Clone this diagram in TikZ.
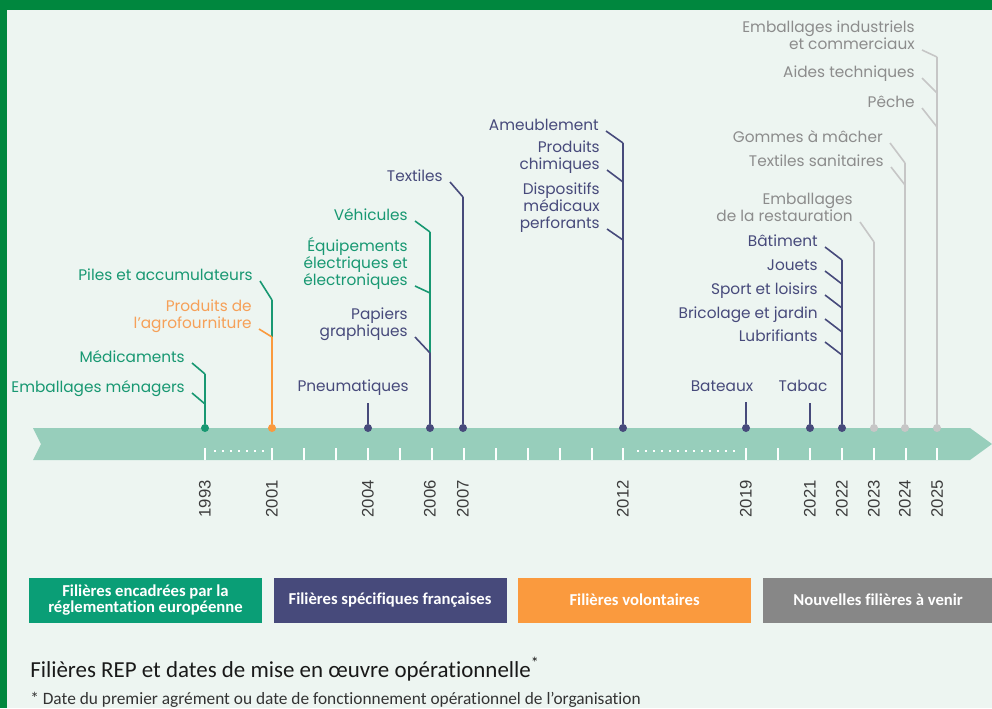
\documentclass[tikz,border=0pt]{standalone}
\usepackage{fontspec}
\setmainfont{Poppins}
\newfontfamily\legendfont[Ligatures=NoCommon]{Carlito}
\newfontfamily\yearfont{Liberation Sans}
\usetikzlibrary{positioning}

\definecolor{fond}{RGB}{237,245,241}
\definecolor{cadre}{RGB}{0,135,62}
\definecolor{bande}{RGB}{151,206,187}
\definecolor{europe}{RGB}{24,152,114}
\definecolor{europebox}{RGB}{10,158,118}
\definecolor{france}{RGB}{71,74,123}
\definecolor{volont}{RGB}{250,154,62}
\definecolor{volonttxt}{RGB}{246,160,88}
\definecolor{avenir}{RGB}{198,198,198}
\definecolor{avenirtxt}{RGB}{140,140,140}
\definecolor{avenirbox}{RGB}{135,135,135}
\definecolor{annee}{RGB}{60,60,60}

\tikzset{
  filiere/.style={font=\fontsize{11.5}{13}\selectfont, inner sep=0pt, text depth=0pt, align=right, anchor=south east},
  tige/.style={line width=1.5pt},
  branche/.style={line width=1.2pt},
  point/.style={circle, fill, inner sep=0pt, minimum size=6pt},
  annee/.style={font=\yearfont\fontsize{12.5}{12.5}\selectfont, text=annee, rotate=90, anchor=east, inner sep=0pt},
  legende/.style={font=\legendfont\bfseries\fontsize{12.5}{12}\selectfont, text=white, align=center,
    minimum width=174.75pt, minimum height=33.75pt, inner sep=0pt},
}

\begin{document}
\begin{tikzpicture}[x=0.75pt, y=-0.75pt]

  % fond et cadre
  \fill[fond] (0,0) rectangle (992,708);
  \fill[cadre] (0,0) rectangle (992,10);
  \fill[cadre] (0,0) rectangle (7,708);
  \useasboundingbox (0,0) rectangle (992,708);

  % bande chronologique
  \fill[bande] (33,428) -- (970,428) -- (992,444) -- (970,460) -- (33,460) -- (41,444) -- cycle;

  % graduations
  \draw[white, line width=1.2pt]
    (205,448) -- (205,460) (272,448) -- (272,460) (304,448) -- (304,460) (336,448) -- (336,460)
    (368,448) -- (368,460) (400,448) -- (400,460) (432,448) -- (432,460) (464,448) -- (464,460)
    (496,448) -- (496,460) (528,448) -- (528,460) (560,448) -- (560,460) (592,448) -- (592,460)
    (623,448) -- (623,460) (746,448) -- (746,460) (778,448) -- (778,460) (810,448) -- (810,460)
    (842,448) -- (842,460) (874,448) -- (874,460) (906,448) -- (906,460) (937,448) -- (937,460);
  \draw[white, line width=1.5pt, dash pattern=on 1.5pt off 4.5pt] (214,451) -- (265,451); % annees sautees
  \draw[white, line width=1.5pt, dash pattern=on 1.5pt off 4.5pt] (637,451) -- (737,451);

  % points des annees
  \node[point, europe] (d1993) at (205,428) {};
  \node[point, volont] (d2001) at (272,428) {};
  \node[point, france] (d2004) at (368,428) {};
  \node[point, france] (d2006) at (430,428) {};
  \node[point, france] (d2007) at (463,428) {};
  \node[point, france] (d2012) at (623,428) {};
  \node[point, france] (d2019) at (746,428) {};
  \node[point, france] (d2021) at (810,428) {};
  \node[point, france] (d2022) at (842,428) {};
  \node[point, avenir] (d2023) at (874,428) {};
  \node[point, avenir] (d2024) at (905,428) {};
  \node[point, avenir] (d2025) at (937,428) {};

  % annees
  \node[annee] (a1993) at (205,480) {1993};
  \node[annee] (a2001) at (272,480) {2001};
  \node[annee] (a2004) at (368,480) {2004};
  \node[annee] (a2006) at (430,480) {2006};
  \node[annee] (a2007) at (463,480) {2007};
  \node[annee] (a2012) at (623,480) {2012};
  \node[annee] (a2019) at (746,480) {2019};
  \node[annee] (a2021) at (810,480) {2021};
  \node[annee] (a2022) at (842,480) {2022};
  \node[annee] (a2023) at (874,480) {2023};
  \node[annee] (a2024) at (905,480) {2024};
  \node[annee] (a2025) at (937,480) {2025};

  % 1993
  \coordinate (j1993a) at (205,374);
  \coordinate (j1993b) at (205,404);
  \node[filiere, text=europe] (medic) at (185,363) {Médicaments};
  \node[filiere, text=europe] (embmen) at (185,393) {Emballages ménagers};
  \draw[tige, europe] (d1993) -- (j1993a);
  \draw[branche, europe] ([xshift=5.25pt]medic.south east) -- (j1993a);
  \draw[branche, europe] ([xshift=5.25pt]embmen.south east) -- (j1993b);

  % 2001
  \coordinate (j2001a) at (272,300);
  \coordinate (j2001b) at (272,337);
  \node[filiere, text=europe] (piles) at (253,281) {Piles et accumulateurs};
  \node[filiere, text=volonttxt] (agro) at (252,329) {Produits de\\l’agrofourniture};
  \draw[tige, europe] (j2001a) -- (j2001b);
  \draw[tige, volont] (j2001b) -- (d2001);
  \draw[branche, europe] ([xshift=5.25pt]piles.south east) -- (j2001a);
  \draw[branche, volont] ([xshift=5.25pt]agro.south east) -- (j2001b);

  % 2004
  \coordinate (t2004) at (368,403);
  \node[filiere, text=france] (pneu) at (409,392) {Pneumatiques};
  \draw[tige, france] (d2004) -- (t2004);

  % 2006
  \coordinate (j2006a) at (430,232);
  \coordinate (j2006b) at (430,293);
  \coordinate (j2006c) at (430,353);
  \node[filiere, text=europe] (vehic) at (408,221) {Véhicules};
  \node[filiere, text=europe] (equip) at (408,286) {Équipements\\électriques et\\électroniques};
  \node[filiere, text=france] (papier) at (408,337) {Papiers\\graphiques};
  \draw[tige, europe] (j2006a) -- (j2006c);
  \draw[tige, france] (j2006c) -- (d2006);
  \draw[branche, europe] ([xshift=5.25pt]vehic.south east) -- (j2006a);
  \draw[branche, europe] ([xshift=5.25pt]equip.south east) -- (j2006b);
  \draw[branche, france] ([xshift=5.25pt]papier.south east) -- (j2006c);

  % 2007
  \coordinate (j2007) at (463,197);
  \node[filiere, text=france] (textil) at (443,182) {Textiles};
  \draw[tige, france] (d2007) -- (j2007);
  \draw[branche, france] ([xshift=5.25pt]textil.south east) -- (j2007);

  % 2012
  \coordinate (j2012a) at (623,143);
  \coordinate (j2012b) at (623,182);
  \coordinate (j2012c) at (623,240);
  \node[filiere, text=france] (ameub) at (599,131) {Ameublement};
  \node[filiere, text=france] (chimi) at (600,170) {Produits\\chimiques};
  \node[filiere, text=france] (dispo) at (600,229) {Dispositifs\\médicaux\\perforants};
  \draw[tige, france] (d2012) -- (j2012a);
  \draw[branche, france] ([xshift=5.25pt]ameub.south east) -- (j2012a);
  \draw[branche, france] ([xshift=5.25pt]chimi.south east) -- (j2012b);
  \draw[branche, france] ([xshift=5.25pt]dispo.south east) -- (j2012c);

  % 2019 et 2021
  \coordinate (t2019) at (746,402);
  \coordinate (t2021) at (810,403);
  \node[filiere, text=france, anchor=south] (bateau) at (722,392) {Bateaux};
  \node[filiere, text=france, anchor=south] (tabac) at (803,392) {Tabac};
  \draw[tige, france] (d2019) -- (t2019);
  \draw[tige, france] (d2021) -- (t2021);

  % 2022
  \coordinate (j2022a) at (842,260);
  \coordinate (j2022b) at (842,284);
  \coordinate (j2022c) at (842,308);
  \coordinate (j2022d) at (842,332);
  \coordinate (j2022e) at (842,355);
  \node[filiere, text=france] (batim) at (818,247) {Bâtiment};
  \node[filiere, text=france] (jouet) at (818,271) {Jouets};
  \node[filiere, text=france] (sport) at (818,295) {Sport et loisirs};
  \node[filiere, text=france] (brico) at (818,319) {Bricolage et jardin};
  \node[filiere, text=france] (lubri) at (818,342) {Lubrifiants};
  \draw[tige, france] (d2022) -- (j2022a);
  \draw[branche, france] ([xshift=5.25pt]batim.south east) -- (j2022a);
  \draw[branche, france] ([xshift=5.25pt]jouet.south east) -- (j2022b);
  \draw[branche, france] ([xshift=5.25pt]sport.south east) -- (j2022c);
  \draw[branche, france] ([xshift=5.25pt]brico.south east) -- (j2022d);
  \draw[branche, france] ([xshift=5.25pt]lubri.south east) -- (j2022e);

  % 2023 a 2025 : nouvelles filieres
  \coordinate (j2023) at (874,242);
  \coordinate (j2024a) at (905,163);
  \coordinate (j2024b) at (905,185);
  \coordinate (j2025a) at (937,57);
  \coordinate (j2025b) at (937,93);
  \coordinate (j2025c) at (937,127);
  \node[filiere, text=avenirtxt] (restau) at (853,222) {Emballages\\de la restauration};
  \node[filiere, text=avenirtxt] (gomme) at (883,143) {Gommes à mâcher};
  \node[filiere, text=avenirtxt] (texsan) at (884,167) {Textiles sanitaires};
  \node[filiere, text=avenirtxt] (embind) at (915,50) {Emballages industriels\\et commerciaux};
  \node[filiere, text=avenirtxt] (aides) at (915,78) {Aides techniques};
  \node[filiere, text=avenirtxt] (peche) at (915,108) {Pêche};
  \draw[tige, avenir] (d2023) -- (j2023);
  \draw[tige, avenir] (d2024) -- (j2024a);
  \draw[tige, avenir] (d2025) -- (j2025a);
  \draw[branche, avenir] ([xshift=5.25pt]restau.south east) -- (j2023);
  \draw[branche, avenir] ([xshift=5.25pt]gomme.south east) -- (j2024a);
  \draw[branche, avenir] ([xshift=5.25pt]texsan.south east) -- (j2024b);
  \draw[branche, avenir] ([xshift=5.25pt]embind.south east) -- (j2025a);
  \draw[branche, avenir] ([xshift=5.25pt]aides.south east) -- (j2025b);
  \draw[branche, avenir] ([xshift=5.25pt]peche.south east) -- (j2025c);

  % legende
  \node[legende, fill=europebox] (leg1) at (145.5,600) {Filières encadrées par la\\réglementation européenne};
  \node[legende, fill=france, right=8.25pt of leg1] (leg2) {Filières spécifiques françaises};
  \node[legende, fill=volont, right=8.25pt of leg2] (leg3) {Filières volontaires};
  \node[legende, fill=avenirbox, right=8.25pt of leg3, minimum width=173.25pt] (leg4) {Nouvelles filières à venir};

  % titre et note
  \node[anchor=base west, inner sep=0pt, text=black!90, font=\legendfont\fontsize{17.2}{18}\selectfont] (titre) at (30,677)
    {Filières REP et dates de mise en œuvre opérationnelle\textsuperscript{*}};
  \node[anchor=base west, inner sep=0pt, text=black!80, font=\legendfont\fontsize{13}{14}\selectfont] (note) at (30,704)
    {* Date du premier agrément ou date de fonctionnement opérationnel de l’organisation};

\end{tikzpicture}
\end{document}
